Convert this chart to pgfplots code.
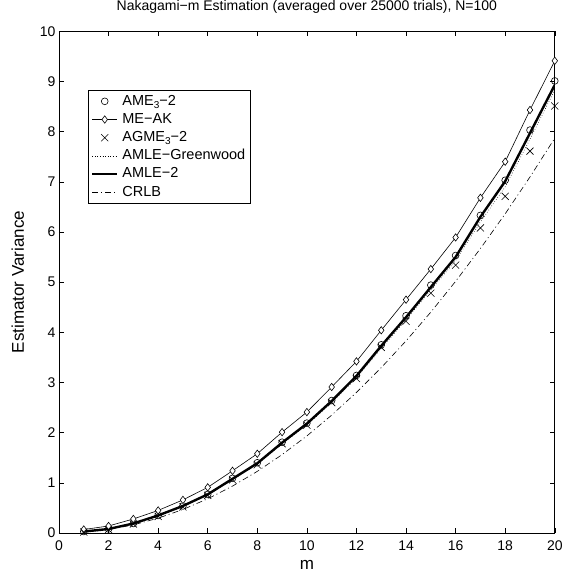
\documentclass[border=0pt]{standalone}
\usepackage{pgfplots}
\pgfplotsset{compat=1.18}
\usepackage{fontspec}
\setmainfont{Liberation Sans}
\newcommand{\sub}[1]{\raisebox{-0.45ex}{\fontsize{10bp}{10bp}\selectfont #1}}
\begin{document}
\begin{tikzpicture}
\pgfplotsset{myleg/.style={legend image code/.code={\draw[mark repeat=2,mark phase=2,##1] plot coordinates {(0bp,0bp)(12.5bp,0bp)(25bp,0bp)};}}}
\begin{axis}[
  scale only axis,
  width=496bp, height=502bp,
  xmin=0, xmax=20, ymin=0, ymax=10,
  xtick={0,2,...,20}, ytick={0,1,...,10},
  tick align=inside,
  major tick length=5bp,
  tick style={black, line width=0.5bp},
  axis line style={line width=0.6bp},
  /pgf/number format/assume math mode=true,
  ticklabel style={font=\fontsize{14bp}{16bp}\selectfont},
  xticklabel style={yshift=-4bp},
  title={Nakagami−m Estimation (averaged over 25000 trials), N=100},
  title style={font=\fontsize{14bp}{16bp}\selectfont, at={(axis description cs:0.5,1)}, anchor=south, inner sep=0pt, yshift=12bp},
  xlabel={m},
  xlabel style={font=\fontsize{17bp}{19bp}\selectfont, at={(axis description cs:0.5,0)}, anchor=base, yshift=-36bp},
  ylabel={Estimator Variance},
  ylabel style={font=\fontsize{17bp}{19bp}\selectfont, at={(axis description cs:-0.0706,0.5)}, anchor=base, rotate=0},
  legend style={at={(axis description cs:0.058,0.882)}, anchor=north west, font=\fontsize{14.5bp}{16bp}\selectfont, draw=black, line width=0.6bp, inner xsep=3bp, inner ysep=1.5bp, row sep=0bp, column sep=2bp,
    nodes={text height=10.5bp, text depth=3bp, inner ysep=2.35bp, inner xsep=2bp}, cells={anchor=west}},
  legend cell align=left,
]
\addplot[only marks, mark=o, mark size=3.4bp, mark options={line width=0.6bp}, myleg] coordinates {
(1,0.03)(2,0.08)(3,0.19)(4,0.35)(5,0.54)(6,0.77)(7,1.09)(8,1.40)(9,1.81)(10,2.19)
(11,2.64)(12,3.14)(13,3.75)(14,4.33)(15,4.94)(16,5.53)(17,6.33)(18,7.03)(19,8.03)(20,9.01)};
\addlegendentry{AME\sub{3}−2}
\addplot[black, line width=0.6bp, mark=diamond*, mark size=3.7bp, mark options={fill=white, line width=0.6bp}, myleg] coordinates {
(1,0.07)(2,0.14)(3,0.28)(4,0.45)(5,0.66)(6,0.91)(7,1.24)(8,1.58)(9,2.01)(10,2.41)
(11,2.91)(12,3.42)(13,4.04)(14,4.65)(15,5.26)(16,5.89)(17,6.68)(18,7.40)(19,8.43)(20,9.41)};
\addlegendentry{ME−AK}
\addplot[only marks, mark=x, mark size=5bp, mark options={line width=0.6bp}, myleg] coordinates {
(1,0.02)(2,0.07)(3,0.18)(4,0.33)(5,0.52)(6,0.75)(7,1.06)(8,1.36)(9,1.78)(10,2.15)
(11,2.60)(12,3.08)(13,3.70)(14,4.22)(15,4.78)(16,5.34)(17,6.08)(18,6.71)(19,7.61)(20,8.51)};
\addlegendentry{AGME\sub{3}−2}
\addplot[black, line width=0.6bp, dotted, myleg] coordinates {
(1,0.03)(2,0.08)(3,0.18)(4,0.34)(5,0.53)(6,0.76)(7,1.06)(8,1.37)(9,1.78)(10,2.15)
(11,2.60)(12,3.09)(13,3.68)(14,4.25)(15,4.84)(16,5.43)(17,6.20)(18,6.90)(19,7.85)(20,8.83)};
\addlegendentry{AMLE−Greenwood}
\addplot[black, line width=2.4bp, myleg] coordinates {
(1,0.03)(2,0.08)(3,0.19)(4,0.35)(5,0.54)(6,0.77)(7,1.08)(8,1.39)(9,1.80)(10,2.18)
(11,2.63)(12,3.13)(13,3.73)(14,4.30)(15,4.90)(16,5.50)(17,6.30)(18,7.01)(19,7.97)(20,8.93)};
\addlegendentry{AMLE−2}
\addplot[black, line width=0.6bp, dash pattern=on 6bp off 3bp on 1bp off 3bp, myleg] coordinates {
(1,0.016)(2,0.069)(3,0.162)(4,0.296)(5,0.469)(6,0.682)(7,0.935)(8,1.229)(9,1.562)(10,1.935)
(11,2.349)(12,2.802)(13,3.296)(14,3.829)(15,4.402)(16,5.016)(17,5.669)(18,6.362)(19,7.096)(20,7.869)};
\addlegendentry{CRLB}
\end{axis}
\path (current axis.south west) ++(-59bp,-50bp) coordinate (bbA);
\path (current axis.north east) ++(11bp,31bp) coordinate (bbB);
\path (bbA) rectangle (bbB);
\end{tikzpicture}
\end{document}
